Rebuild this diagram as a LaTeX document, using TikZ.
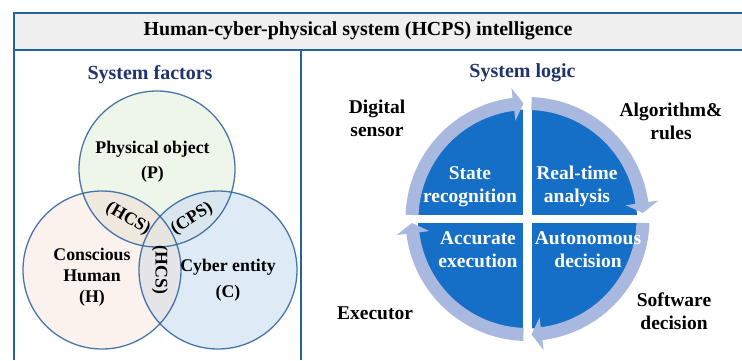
\documentclass[tikz,border=0pt]{standalone}
\usepackage{fontspec}
\setmainfont{Liberation Serif}
\definecolor{frameblue}{RGB}{38,98,160}
\definecolor{titlegray}{RGB}{239,239,239}
\definecolor{headnavy}{RGB}{30,52,110}
\definecolor{pfill}{RGB}{238,245,233}
\definecolor{hfill}{RGB}{251,242,237}
\definecolor{cfill}{RGB}{222,235,246}
\definecolor{phfill}{RGB}{238,232,222}
\definecolor{pcfill}{RGB}{218,230,238}
\definecolor{hcfill}{RGB}{229,229,232}
\definecolor{phcfill}{RGB}{231,229,224}
\definecolor{vennline}{RGB}{40,95,160}
\definecolor{quadblue}{RGB}{22,111,199}
\definecolor{ringblue}{RGB}{168,184,222}
\newcommand{\cyclearrow}[3]{%
  \fill[ringblue] (#1:109) arc[start angle=#1, end angle=#2, radius=109]
    -- (#2:99) -- (#3:115.5) -- (#2:132) -- (#2:122)
    arc[start angle=#2, end angle=#1, radius=122] -- cycle;}
\begin{document}
\begin{tikzpicture}[x=1pt,y=-1pt,
  heading/.style={font=\bfseries\fontsize{20}{22}\selectfont, text=headnavy},
  vennlabel/.style={font=\bfseries\fontsize{17.8}{20}\selectfont, align=center, inner sep=0pt},
  sidelabel/.style={font=\bfseries\fontsize{19.5}{23}\selectfont, align=center, inner sep=0pt},
  quadlabel/.style={font=\bfseries\fontsize{19.5}{23}\selectfont, align=center, text=white, inner sep=0pt},
  frameline/.style={draw=frameblue, line width=1.6pt}]
\useasboundingbox (0,0) rectangle (742,360);

% title bar and panel frame
\fill[titlegray] (14,13) rectangle (742,50);
\draw[frameline] (742,13) -- (14,13) -- (14,360);
\draw[frameblue, line width=2.2pt] (14,50) -- (742,50);
\draw[frameline] (301,50) -- (301,360);
\node[font=\bfseries\fontsize{19.9}{22}\selectfont] (title) at (358,31)
  {Human-cyber-physical system (HCPS) intelligence};

% ---- left panel: Venn diagram of system factors ----
\node[heading] (factors) at (150,75) {System factors};
\coordinate (P) at (157,169);
\coordinate (H) at (102,270);
\coordinate (C) at (218,270);
\fill[pfill] (P) circle[radius=78];
\fill[hfill] (H) circle[radius=79];
\fill[cfill] (C) circle[radius=79];
\begin{scope}
  \clip (P) circle[radius=78];
  \fill[phfill] (H) circle[radius=79];
  \fill[pcfill] (C) circle[radius=79];
\end{scope}
\begin{scope}
  \clip (H) circle[radius=79];
  \fill[hcfill] (C) circle[radius=79];
  \clip (C) circle[radius=79];
  \fill[phcfill] (P) circle[radius=78];
\end{scope}
\draw[vennline, line width=1.3pt, draw opacity=0.85] (P) circle[radius=78];
\draw[vennline, line width=1.3pt, draw opacity=0.85] (H) circle[radius=79];
\draw[vennline, line width=1.3pt, draw opacity=0.85] (C) circle[radius=79];

\node[vennlabel] (plabel) at (152.5,162) {Physical object\\[5pt](P)};
\node[vennlabel] (hlabel) at (92,277) {Conscious\\[1pt]Human\\[1pt](H)};
\node[vennlabel] (clabel) at (228,280) {Cyber entity\\[6pt](C)};
\node[vennlabel, rotate=-30] (hcs) at (128,219) {(HCS)};
\node[vennlabel, rotate=32] (cps) at (192,219) {(CPS)};
\node[vennlabel, rotate=-90] (hcsv) at (160,270) {(HCS)};

% ---- right panel: system logic cycle ----
\node[heading] (logic) at (522.5,73) {System logic};
\begin{scope}[shift={(527.5,219)}, yscale=-1]
  \fill[quadblue] (0,0) circle[radius=109.5];
  \fill[white] (-4.5,-126) rectangle (4.5,126);
  \fill[white] (-126,-4) rectangle (126,4);
  \cyclearrow{178}{97}{92}
  \cyclearrow{88}{8}{3}
  \cyclearrow{-2}{-83}{-88}
  \cyclearrow{-92}{-173}{-178}
\end{scope}

\node[quadlabel] (state) at (470,186.5) {State\\recognition};
\node[quadlabel] (analysis) at (577,186.5) {Real-time\\analysis};
\node[quadlabel] (execution) at (478,249.5) {Accurate\\execution};
\node[quadlabel] (decision) at (588,249.5) {Autonomous\\decision};

\node[sidelabel] (sensor) at (377,118.5) {Digital\\sensor};
\node[sidelabel] (rules) at (671,121) {Algorithm\&\\rules};
\node[sidelabel] (software) at (674,311.5) {Software\\decision};
\node[sidelabel] (executor) at (375,313) {Executor};
\end{tikzpicture}
\end{document}
